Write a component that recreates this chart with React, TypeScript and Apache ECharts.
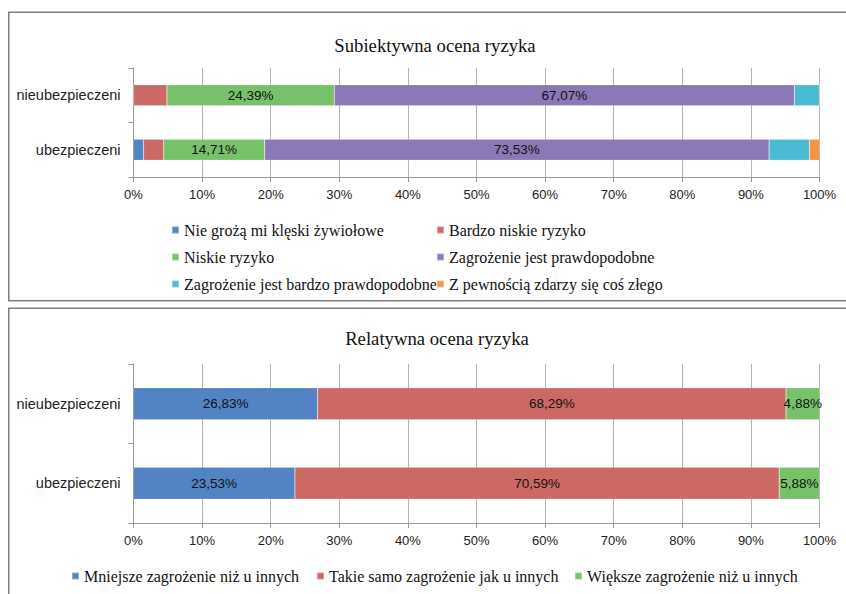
import React, { useEffect, useRef } from "react";
import * as echarts from "echarts";

const categories = ["ubezpieczeni", "nieubezpieczeni"];
const xTicks = { min: 0, max: 100, interval: 10 };

const subjNames = [
  "Nie grożą mi klęski żywiołowe",
  "Bardzo niskie ryzyko",
  "Niskie ryzyko",
  "Zagrożenie jest prawdopodobne",
  "Zagrożenie jest bardzo prawdopodobne",
  "Z pewnością zdarzy się coś złego",
];
// values per series: [ubezpieczeni, nieubezpieczeni]
const subjNieGroza = [1.47, 0];
const subjBardzoNiskie = [2.94, 4.88];
const subjNiskie = [14.71, 24.39];
const subjPrawdopodobne = [73.53, 67.07];
const subjBardzoPrawdopodobne = [5.88, 3.66];
const subjPewnosc = [1.47, 0];
const subjShowLabel = [false, false, true, true, false, false];

const relNames = [
  "Mniejsze zagrożenie niż u innych",
  "Takie samo zagrożenie jak u innych",
  "Większe zagrożenie niż u innych",
];
const relMniejsze = [23.53, 26.83];
const relTakieSamo = [70.59, 68.29];
const relWieksze = [5.88, 4.88];

const subjColors = ["#5183c5", "#cc6964", "#77c16b", "#8b78b6", "#4bbad5", "#f79247"];
const relColors = ["#5183c5", "#cc6964", "#77c16b"];

const fmt = (v: number) => v.toFixed(2).replace(".", ",") + "%";
const sans = "Liberation Sans";
const serif = "Liberation Serif";

export default function App() {
  const ref = useRef<HTMLDivElement>(null);
  useEffect(() => {
    if (!ref.current) return;
    const chart = echarts.init(ref.current, null, { renderer: "svg" });
    const subjData = [subjNieGroza, subjBardzoNiskie, subjNiskie, subjPrawdopodobne, subjBardzoPrawdopodobne, subjPewnosc];
    const relData = [relMniejsze, relTakieSamo, relWieksze];

    const xAxisCommon = (gridIndex: number) => ({
      type: "value",
      gridIndex,
      min: xTicks.min,
      max: xTicks.max,
      interval: xTicks.interval,
      axisLine: { show: true, lineStyle: { color: "#9a9a9a", width: 1 } },
      axisTick: { show: true, length: 5, lineStyle: { color: "#9a9a9a" } },
      splitLine: { show: true, lineStyle: { color: "#b4b4b4", width: 1 } },
      axisLabel: { formatter: "{value}%", fontFamily: sans, fontSize: 13, color: "#222", margin: 11 },
    });
    const yAxisCommon = (gridIndex: number) => ({
      type: "category",
      gridIndex,
      data: categories,
      axisLine: { show: true, lineStyle: { color: "#9a9a9a", width: 1 } },
      axisTick: { show: true, length: 5, interval: 0, lineStyle: { color: "#9a9a9a" } },
      axisLabel: { fontFamily: sans, fontSize: 14.5, color: "#222", margin: 13 },
    });

    const labelStyle = {
      show: true,
      position: "inside",
      fontFamily: sans,
      fontSize: 13.5,
      color: "#111",
      formatter: (p: any) => fmt(p.value),
    };

    const series: any[] = [];
    subjNames.forEach((n, i) => {
      series.push({
        type: "bar",
        name: n,
        stack: "subj",
        xAxisIndex: 0,
        yAxisIndex: 0,
        barWidth: 21,
        data: subjData[i],
        itemStyle: { color: subjColors[i], borderColor: "rgba(255,255,255,0.35)", borderWidth: 0.5 },
        label: subjShowLabel[i] ? labelStyle : { show: false },
      });
    });
    relNames.forEach((n, i) => {
      series.push({
        type: "bar",
        name: n,
        stack: "rel",
        xAxisIndex: 1,
        yAxisIndex: 1,
        barWidth: 32,
        data: relData[i],
        itemStyle: { color: relColors[i], borderColor: "rgba(255,255,255,0.35)", borderWidth: 0.5 },
        label: labelStyle,
      });
    });

    const legendText = { fontFamily: serif, fontSize: 16, color: "#111", lineHeight: 16 };
    const legendBase = {
      icon: "rect",
      itemWidth: 7,
      itemHeight: 7,
      itemGap: 11,
      selectedMode: false,
      textStyle: legendText,
      padding: 0,
    };

    chart.setOption({
      animation: false,
      backgroundColor: "#fff",
      title: [
        {
          text: "Subiektywna ocena ryzyka",
          left: 430,
          textAlign: "center",
          top: 31,
          textStyle: { fontFamily: serif, fontSize: 18.7, fontWeight: "normal", color: "#111" },
        },
        {
          text: "Relatywna ocena ryzyka",
          left: 432,
          textAlign: "center",
          top: 324,
          textStyle: { fontFamily: serif, fontSize: 18.7, fontWeight: "normal", color: "#111" },
        },
      ],
      grid: [
        { left: 133.5, right: 26.5, top: 68, height: 109 },
        { left: 133.5, right: 26.5, top: 364, height: 159 },
      ],
      xAxis: [xAxisCommon(0), xAxisCommon(1)],
      yAxis: [yAxisCommon(0), yAxisCommon(1)],
      legend: [
        { ...legendBase, orient: "vertical", left: 171, top: 222, data: [subjNames[0], subjNames[2], subjNames[4]] },
        { ...legendBase, orient: "vertical", left: 436, top: 222, data: [subjNames[1], subjNames[3], subjNames[5]] },
        { ...legendBase, orient: "horizontal", left: 71, top: 568, data: [relNames[0]] },
        { ...legendBase, orient: "horizontal", left: 316, top: 568, data: [relNames[1]] },
        { ...legendBase, orient: "horizontal", left: 574, top: 568, data: [relNames[2]] },
      ],
      graphic: [
        {
          type: "rect",
          shape: { x: 8.75, y: 12.25, width: 900, height: 288.5 },
          style: { fill: "none", stroke: "#7f7f7f", lineWidth: 1.5 },
          silent: true,
        },
        {
          type: "rect",
          shape: { x: 8.75, y: 308.25, width: 900, height: 400 },
          style: { fill: "none", stroke: "#7f7f7f", lineWidth: 1.5 },
          silent: true,
        },
      ],
      series,
    });
    return () => chart.dispose();
  }, []);
  return (
    <div
      ref={ref}
      style={{ position: "absolute", left: 0, top: 0, width: 846, height: 594 }}
    />
  );
}
